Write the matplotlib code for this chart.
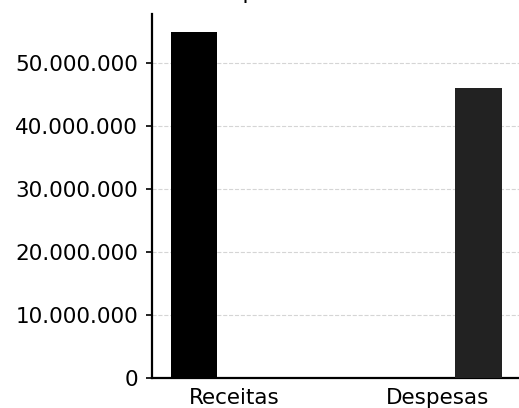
import numpy as np
import matplotlib.pyplot as plt
from matplotlib.ticker import FuncFormatter

categorias = ['Receitas', 'Despesas']
valores = [55000000, 46000000]
cores = ['#000000', '#222222']
deslocamento = [-0.2, 0.2]

fig = plt.figure(figsize=(5.19, 4.08), dpi=100)
ax = fig.add_axes([0.293, 0.0735, 0.707, 0.8925])

x = np.arange(len(categorias))
for i in range(len(categorias)):
    ax.bar(x[i] + deslocamento[i], valores[i], width=0.23, color=cores[i], zorder=3)

ax.set_xticks(x)
ax.set_xticklabels(categorias)
ax.set_xlim(-0.406, 1.40)
ax.set_ylim(0, 57800000)
ax.set_yticks(np.arange(0, 60000000, 10000000))
ax.yaxis.set_major_formatter(FuncFormatter(lambda v, p: f'{int(v):,}'.replace(',', '.')))

ax.grid(axis='y', linestyle='--', color='#d5d5d5', linewidth=0.8, zorder=0)
for s in ['top', 'right']:
    ax.spines[s].set_visible(False)
ax.spines['left'].set_linewidth(1.6)
ax.spines['bottom'].set_linewidth(1.6)
ax.tick_params(axis='y', labelsize=15.5, length=4, width=1.2, pad=6)
ax.tick_params(axis='x', labelsize=15.5, length=0, pad=7)

# titulo quase todo fora da imagem, como na referencia
fig.text(0.5, 1.0035, 'Receitas e Despesas Totais 2023', ha='center', va='baseline', fontsize=15.5)

fig.savefig('out.png', dpi=100)
